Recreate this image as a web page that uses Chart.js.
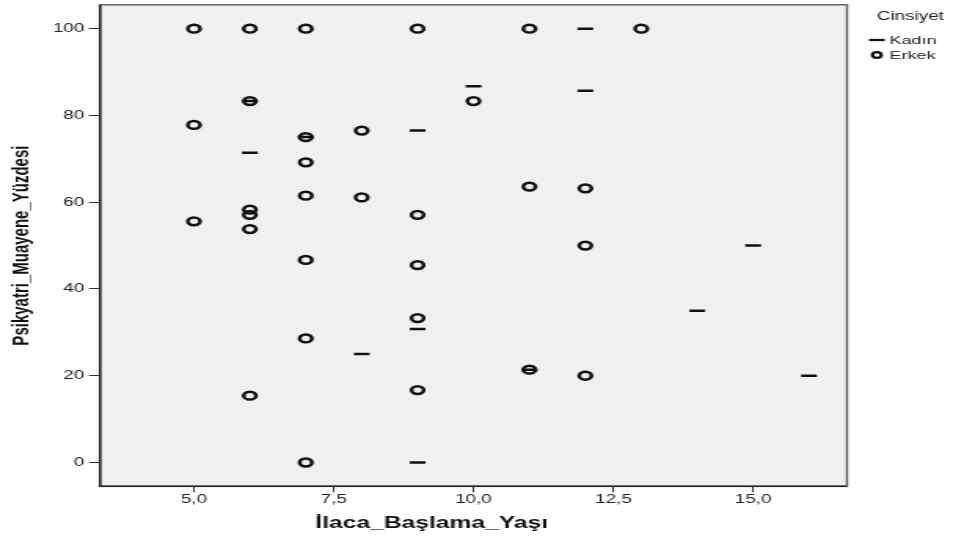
<!DOCTYPE html>
<html>
<head>
<meta charset="utf-8">
<script src="https://cdn.jsdelivr.net/npm/chart.js@4/dist/chart.umd.min.js"></script>
<style>
    html, body { margin: 0; padding: 0; background: #fff; overflow: hidden; }
    #chart { display: block; transform: scaleX(1.57); transform-origin: 0 0; }
</style>
</head>
<body>
<canvas id="chart" width="607" height="545"></canvas>
<script>
// Kadın (women)
const kadinYas = [6, 6, 7, 8, 9, 9, 9, 10, 11, 12, 12, 14, 15, 16];
const kadinYuzde = [83.3, 71.4, 75.0, 25.0, 76.5, 30.8, 0, 86.7, 21.4, 100, 85.7, 35.0, 50.0, 20.0];

// Erkek (men)
const erkekYas = [5, 5, 5, 6, 6, 6, 6, 6, 6, 7, 7, 7, 7, 7, 7, 7, 8, 8, 9, 9, 9, 9, 9, 10, 11, 11, 11, 12, 12, 12, 13];
const erkekYuzde = [100, 77.8, 55.6, 100, 83.3, 58.3, 57.1, 53.8, 15.4, 100, 75.0, 69.2, 61.5, 46.7, 28.6, 0,
    76.5, 61.1, 100, 57.1, 45.5, 33.3, 16.7, 83.3, 100, 63.6, 21.4, 63.2, 50.0, 20.0, 100];

const xTicks = [5, 7.5, 10, 12.5, 15];
const yTicks = [0, 20, 40, 60, 80, 100];

const seriesNames = ['Kadın', 'Erkek'];
const legendTitle = 'Cinsiyet';
const xTitle = 'İlaca_Başlama_Yaşı';
const yTitle = 'Psikyatri_Muayene_Yüzdesi';

const toPoints = (xs, ys) => xs.map((x, i) => ({x: x, y: ys[i]}));
const comma = (v) => v.toFixed(1).replace('.', ',');

// grey plot background plus frame around it
const plotFrame = {
    id: 'plotFrame',
    beforeDatasetsDraw(chart) {
        const {ctx, chartArea: a} = chart;
        ctx.save();
        ctx.fillStyle = '#f0f0f0';
        ctx.fillRect(a.left, a.top, a.width, a.height);
        ctx.restore();
    },
    afterDraw(chart) {
        const {ctx, chartArea: a} = chart;
        ctx.save();
        ctx.strokeStyle = '#666';
        ctx.lineWidth = 1.5;
        ctx.strokeRect(a.left, a.top, a.width, a.height);
        ctx.strokeStyle = '#222';
        ctx.beginPath();
        ctx.moveTo(a.left, a.top);
        ctx.lineTo(a.left, a.bottom);
        ctx.lineTo(a.right, a.bottom);
        ctx.stroke();
        ctx.restore();
    }
};

// legend box at the right of the plot
const sideLegend = {
    id: 'sideLegend',
    afterDraw(chart) {
        const {ctx, chartArea: a} = chart;
        const x = a.right + 19;
        ctx.save();
        ctx.fillStyle = '#222';
        ctx.textBaseline = 'middle';
        ctx.font = '12px "Liberation Sans", Arial, sans-serif';
        ctx.fillText(legendTitle, x, 17);

        ctx.font = '11.5px "Liberation Sans", Arial, sans-serif';
        ctx.strokeStyle = '#111';
        ctx.lineWidth = 2.2;
        ctx.beginPath();
        ctx.moveTo(x - 5, 40);
        ctx.lineTo(x + 5, 40);
        ctx.stroke();
        ctx.fillText(seriesNames[0], x + 8, 40.5);

        ctx.beginPath();
        ctx.arc(x, 55, 2.8, 0, Math.PI * 2);
        ctx.stroke();
        ctx.fillText(seriesNames[1], x + 8, 55.5);
        ctx.restore();
    }
};

const tickFont = {family: '"Liberation Sans", Arial, sans-serif', size: 12};

new Chart(document.getElementById('chart'), {
    type: 'scatter',
    data: {
        datasets: [{
            label: seriesNames[1],
            data: toPoints(erkekYas, erkekYuzde),
            pointStyle: 'circle',
            pointRadius: 3.9,
            pointBorderWidth: 2.5,
            borderColor: '#111',
            backgroundColor: 'rgba(0,0,0,0)'
        }, {
            label: seriesNames[0],
            data: toPoints(kadinYas, kadinYuzde),
            pointStyle: 'line',
            pointRadius: 5,
            pointBorderWidth: 2.5,
            borderColor: '#111',
            backgroundColor: '#111'
        }]
    },
    options: {
        responsive: false,
        animation: false,
        events: [],
        layout: {
            autoPadding: false,
            padding: {left: 10.5, right: 67.5, top: 2, bottom: 0}
        },
        scales: {
            x: {
                type: 'linear',
                min: 3.32,
                max: 16.68,
                afterBuildTicks: (scale) => { scale.ticks = xTicks.map(v => ({value: v})); },
                afterFit: (scale) => { scale.height = 28; },
                grid: {drawOnChartArea: false, tickLength: 6, color: '#333'},
                border: {display: false},
                ticks: {
                    font: tickFont,
                    color: '#222',
                    padding: 0,
                    maxRotation: 0,
                    callback: (v) => comma(v)
                }
            },
            y: {
                type: 'linear',
                min: -5.5,
                max: 105.5,
                afterBuildTicks: (scale) => { scale.ticks = yTicks.map(v => ({value: v})); },
                afterFit: (scale) => { scale.width = 53.2; },
                grid: {drawOnChartArea: false, tickLength: 7, color: '#333'},
                border: {display: false},
                // small lineHeight so the top label does not push the plot down
                ticks: {font: {...tickFont, lineHeight: 0.3}, color: '#222', padding: 3},
                title: {
                    display: true,
                    text: yTitle,
                    color: '#111',
                    padding: {top: 0, bottom: 0},
                    font: {family: '"Liberation Sans", Arial, sans-serif', size: 15, weight: 'bold', lineHeight: 0.5}
                }
            }
        },
        plugins: {
            legend: {display: false},
            tooltip: {enabled: false},
            title: {
                display: true,
                position: 'bottom',
                text: xTitle,
                color: '#111',
                padding: {top: 0, bottom: 11.8},
                font: {family: '"Liberation Sans", Arial, sans-serif', size: 15.7, weight: 'bold'}
            }
        }
    },
    plugins: [plotFrame, sideLegend]
});
</script>
</body>
</html>
